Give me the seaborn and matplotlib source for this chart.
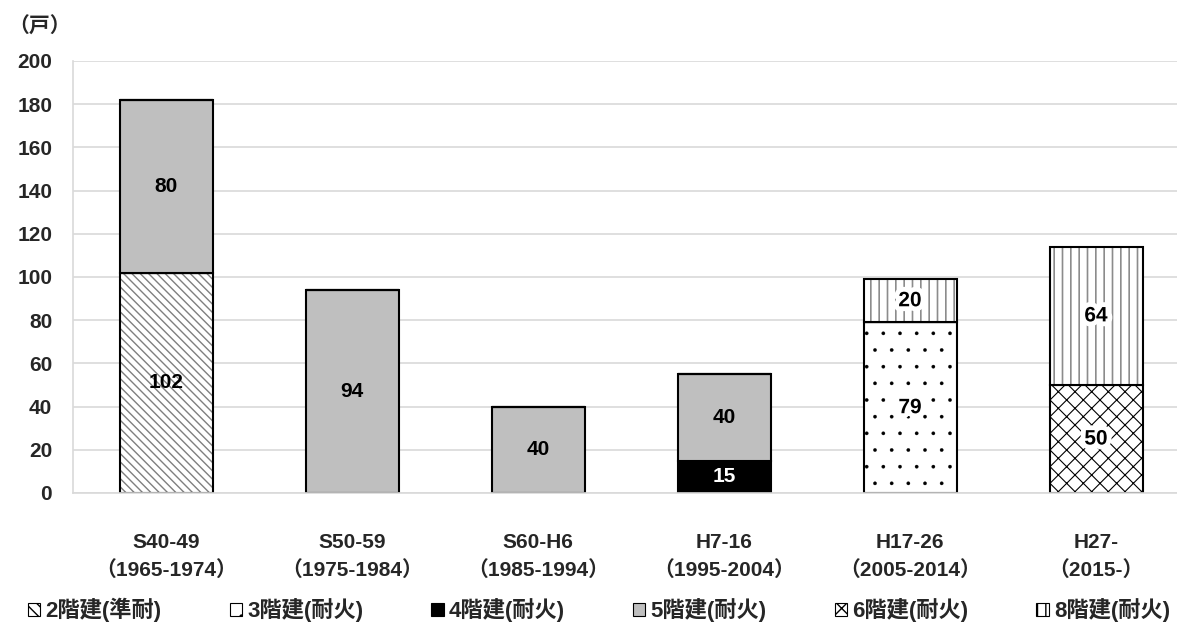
import numpy as np
import seaborn as sns
import matplotlib.pyplot as plt
import matplotlib.patheffects as pe
from matplotlib.patches import Patch

# construction periods (x categories)
periods = ['S40-49\n（1965-1974）', 'S50-59\n（1975-1984）', 'S60-H6\n（1985-1994）',
           'H7-16\n（1995-2004）', 'H17-26\n（2005-2014）', 'H27-\n（2015-）']

# number of dwellings per building type, stacked bottom to top
floors = ['2階建(準耐)', '3階建(耐火)', '4階建(耐火)', '5階建(耐火)', '6階建(耐火)', '8階建(耐火)']
two_story = [102, 0, 0, 0, 0, 0]
three_story = [0, 0, 0, 0, 79, 0]
four_story = [0, 0, 0, 15, 0, 0]
five_story = [80, 94, 40, 40, 0, 0]
six_story = [0, 0, 0, 0, 0, 50]
eight_story = [0, 0, 0, 0, 20, 64]
series = [two_story, three_story, four_story, five_story, six_story, eight_story]

BACK = chr(92)  # backslash hatch
# face colour, hatch, hatch colour, label colour, hatch width
styles = {
    '2階建(準耐)': ('white', BACK * 4, '#7f7f7f', 'black', 1.0),
    '3階建(耐火)': ('white', '.', 'black', 'black', 0.2),
    '4階建(耐火)': ('black', '', 'black', 'white', 1.0),
    '5階建(耐火)': ('#bfbfbf', '', '#bfbfbf', 'black', 1.0),
    '6階建(耐火)': ('white', 'xx', 'black', 'black', 0.8),
    '8階建(耐火)': ('white', '||', '#8c8c8c', 'black', 1.2),
}

sns.set_theme(style='white')
plt.rcParams['font.family'] = ['Liberation Sans', 'Noto Sans CJK JP', 'DejaVu Sans']
plt.rcParams['font.weight'] = 'bold'
plt.rcParams['hatch.linewidth'] = 1.0

fig = plt.figure(figsize=(11.77, 6.31), dpi=100)
ax = fig.add_axes([73 / 1177, 1 - 493 / 631, 1116 / 1177, 432 / 631])

bottom = np.zeros(len(periods))
for name, vals in zip(floors, series):
    face, hatch, hcol, tcol, hlw = styles[name]
    sns.barplot(x=periods, y=vals, ax=ax, color=face, saturation=1, width=0.5,
                errorbar=None, bottom=bottom, hatch=hatch, edgecolor=hcol, linewidth=0)
    bars = ax.containers[-1]
    for p in bars:
        try:
            p.set_hatch_linewidth(hlw)
        except AttributeError:
            pass
    sns.barplot(x=periods, y=vals, ax=ax, color='black', fill=False, width=0.5,
                errorbar=None, bottom=bottom, linewidth=1.5)
    texts = ax.bar_label(bars, labels=[str(v) if v else '' for v in vals], label_type='center',
                         color=tcol, fontsize=15, fontweight='bold')
    if hatch and face == 'white' and name != '2階建(準耐)':
        for t in texts:
            t.set_path_effects([pe.withStroke(linewidth=7, foreground='white')])
    bottom = bottom + np.array(vals)

ax.set_xlim(-0.5, 5.5)
ax.set_ylim(0, 200)
ax.set_yticks(range(0, 201, 20))
ax.yaxis.grid(True, color='#d9d9d9', lw=1.2)
ax.set_axisbelow(True)
ax.set_xlabel('')
ax.set_ylabel('')
for side in ['top', 'right']:
    ax.spines[side].set_visible(False)
for side in ['left', 'bottom']:
    ax.spines[side].set_color('#d9d9d9')
    ax.spines[side].set_linewidth(1.2)
ax.tick_params(axis='y', length=0, pad=15, labelsize=15)
ax.tick_params(axis='x', length=0, pad=29, labelsize=15)
for lab in ax.get_xticklabels():
    lab.set_linespacing(1.5)
    lab.set_fontweight('bold')
for lab in ax.get_yticklabels():
    lab.set_fontweight('bold')

fig.text(8 / 1177, 1 - 27 / 631, '（戸）', fontsize=15, fontweight='bold', va='center', ha='left')

legend_hatch = {BACK * 4: BACK * 3}
handles = [Patch(facecolor=styles[f][0], edgecolor='black',
                 hatch=legend_hatch.get(styles[f][1], styles[f][1]), linewidth=0.8) for f in floors]
fig.legend(handles, floors, loc='center', bbox_to_anchor=(0.509, 1 - 610 / 631), ncol=6,
           frameon=False, handlelength=0.55, handleheight=0.55, handletextpad=0.25,
           columnspacing=3.05, prop={'size': 16, 'weight': 'bold'})

fig.savefig('out.png', dpi=100)
